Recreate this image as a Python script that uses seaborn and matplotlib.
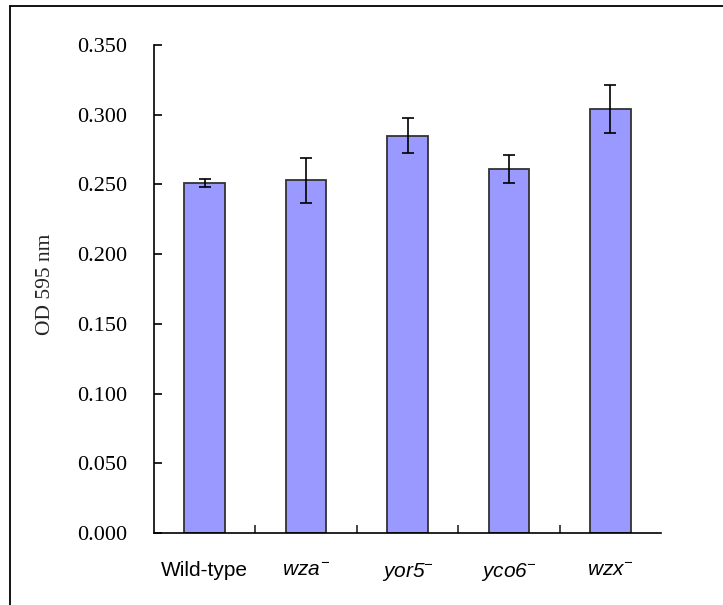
import matplotlib
matplotlib.use("Agg")
import matplotlib.pyplot as plt
from matplotlib.lines import Line2D
from matplotlib.ticker import FixedLocator, FormatStrFormatter
import seaborn as sns

# Biofilm formation (crystal violet, OD 595 nm) per strain
strains = ["Wild-type", "wza", "yor5", "yco6", "wzx"]
od595 = [0.251, 0.253, 0.285, 0.261, 0.304]
od595_err = [0.003, 0.016, 0.0125, 0.010, 0.017]
yticks = [0.000, 0.050, 0.100, 0.150, 0.200, 0.250, 0.300, 0.350]

sns.set_theme(style="white")
plt.rcParams["font.family"] = ["Liberation Serif", "DejaVu Serif"]
plt.rcParams["mathtext.fontset"] = "custom"
plt.rcParams["mathtext.rm"] = "Liberation Sans:italic"
plt.rcParams["mathtext.it"] = "Liberation Sans:italic"

fig = plt.figure(figsize=(7.23, 6.05), dpi=100)
ax = fig.add_axes([154 / 723, 1 - 533 / 605, 507 / 723, 488 / 605])

sns.barplot(x=strains, y=od595, color="#9999FF", saturation=1, width=0.4,
            edgecolor="#333333", linewidth=1.3, errorbar=None, ax=ax)
ax.errorbar(x=list(range(len(strains))), y=od595, yerr=od595_err, fmt="none",
            ecolor="black", elinewidth=1.2, capsize=4, capthick=1.2)

ax.set_xlim(-0.5, len(strains) - 0.5)
ax.set_ylim(0, 0.35)
ax.set_yticks(yticks)
ax.yaxis.set_major_formatter(FormatStrFormatter("%.3f"))

labels = ["Wild-type"] + [r"$%s^{-}$" % s for s in strains[1:]]
ax.set_xticks(range(len(strains)))
ax.set_xticklabels(labels, fontfamily="Liberation Sans", fontsize=15)
ax.xaxis.set_minor_locator(FixedLocator([i + 0.5 for i in range(len(strains) - 1)]))

ax.tick_params(axis="y", direction="in", length=6, width=1.2, pad=19,
               labelsize=16, left=True, colors="black")
ax.tick_params(axis="x", which="major", length=0, pad=20, colors="black")
ax.tick_params(axis="x", which="minor", direction="in", length=6, width=1.2,
               bottom=True)

ax.set_xlabel("")
ax.set_ylabel("")
for side in ("top", "right"):
    ax.spines[side].set_visible(False)
for side in ("left", "bottom"):
    ax.spines[side].set_color("black")
    ax.spines[side].set_linewidth(1.2)

fig.text(45 / 723, 1 - 284 / 605, "OD 595 nm", rotation=90, ha="center",
         va="center", fontsize=15.5)

# Outer frame of the chart area
fig.add_artist(Line2D([10 / 723, 1.0], [1 - 6 / 605] * 2, color="black", lw=1.3))
fig.add_artist(Line2D([10 / 723] * 2, [1 - 6 / 605, 0.0], color="black", lw=1.3))

fig.savefig("out.png", dpi=100)
